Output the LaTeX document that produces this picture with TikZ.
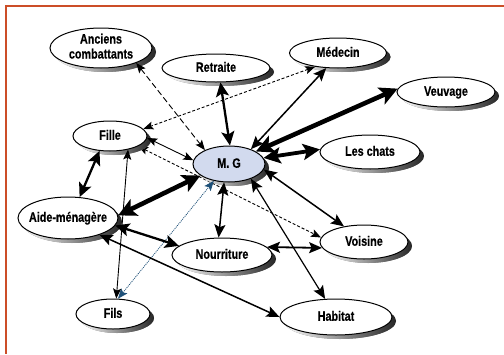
\documentclass[tikz,border=0pt]{standalone}
\usepackage{fontspec}
\setmainfont{Liberation Sans}[BoldFeatures={FakeBold=0.6}]
\usetikzlibrary{shapes.geometric,arrows.meta,shadows,backgrounds}
\definecolor{framecol}{RGB}{204,78,40}
\definecolor{mgfill}{RGB}{210,218,238}
\definecolor{dotblue}{RGB}{30,80,120}
\tikzset{
  oval/.style={ellipse, draw, line width=1pt, fill=white, inner sep=0pt,
    font=\fontsize{13.5}{15}\selectfont\bfseries, text height=9.5pt, text depth=2pt,
    drop shadow={shadow xshift=4pt, shadow yshift=-4pt, left color=white, right color=black!85, opacity=1}},
  tipA/.tip={Stealth[length=10pt,width=8pt,inset=2pt]},
  tipB/.tip={Stealth[length=13pt,width=11pt,inset=2.5pt]},
  tipC/.tip={Stealth[length=14pt,width=13pt,inset=3pt]},
  tipD/.tip={Stealth[length=17pt,width=16pt,inset=3.5pt]},
  tipE/.tip={Stealth[length=18pt,width=18pt,inset=4pt]},
  a1/.style={line width=0.9pt, tipA-tipA},
  a2/.style={line width=1.5pt, tipB-tipB},
  a3/.style={line width=2.3pt, tipC-tipC},
  a4/.style={line width=3.8pt, tipD-tipD},
  a5/.style={line width=4.6pt, tipE-tipE},
  dlong/.style={line width=0.9pt, dash pattern=on 6pt off 3pt, tipA-tipA},
  dsh/.style={line width=0.9pt, dash pattern=on 3pt off 2pt, tipA-tipA},
  dotb/.style={line width=0.8pt, dotblue, dash pattern=on 1pt off 1pt, tipA-tipA},
}
\newcommand{\lbl}[1]{\makebox[0pt]{\scalebox{0.8}[1]{#1}}}
\begin{document}
\begin{tikzpicture}[x=1pt,y=-1pt]
\useasboundingbox (0,0) rectangle (504,354);
\draw[framecol, line width=1.5pt] (504,6) -- (6,6) -- (6,354);

\node[oval, minimum width=102pt, minimum height=40pt, text height=24pt, text depth=3pt] (anc) at (101,48)
  {\lbl{\begin{tabular}[b]{@{}c@{}}Anciens\\combattants\end{tabular}}};
\node[oval, minimum width=108pt, minimum height=28pt] (ret) at (216,68) {\lbl{Retraite}};
\node[oval, minimum width=97pt, minimum height=30pt] (med) at (338,53) {\lbl{Médecin}};
\node[oval, minimum width=98pt, minimum height=30pt] (veu) at (446,92) {\lbl{Veuvage}};
\node[oval, minimum width=100pt, minimum height=34pt] (cha) at (370,152) {\lbl{Les chats}};
\node[oval, fill=mgfill, minimum width=72pt, minimum height=36pt] (mg) at (229,164) {\lbl{M. G}};
\node[oval, minimum width=74pt, minimum height=30pt] (fil) at (110,136) {\lbl{Fille}};
\node[oval, minimum width=100pt, minimum height=42pt] (aid) at (68,218) {\lbl{Aide-ménagère}};
\node[oval, minimum width=100pt, minimum height=34pt] (nou) at (222,255) {\lbl{Nourriture}};
\node[oval, minimum width=88pt, minimum height=34pt] (voi) at (364,242) {\lbl{Voisine}};
\node[oval, minimum width=74pt, minimum height=30pt] (fis) at (113,314) {\lbl{Fils}};
\node[oval, minimum width=112pt, minimum height=36pt] (hab) at (336,317) {\lbl{Habitat}};

\begin{scope}[on background layer]
  \draw[dsh] (fil.-20) -- (voi.174);
\end{scope}
\draw[dlong] (anc.-23) -- (mg.150);
\draw[a3] (ret.-73) -- (mg.87);
\draw[a2] (med.-128) -- (mg.34);
\draw[a5] (veu.176) -- (mg.25);
\draw[a4] (cha.177) -- (mg.10);
\draw[a2] (voi.142) -- (mg.-9);
\draw[a2, line width=1.2pt] (hab.121) -- (mg.-34);
\draw[a2] (nou.101) -- (mg.-105);
\draw[dotb] (fis.72) -- (mg.-132);
\draw[a5] (aid.3) -- (mg.-158);
\draw[a1] (fil.-3) -- (mg.174);
\draw[dsh] (med.-149) -- (fil.12);
\draw[a3] (fil.-125) -- (aid.61);
\draw[a1] (fil.-37) -- (fis.78);
\draw[a3] (aid.-9) -- (nou.168);
\draw[a2] (aid.-28) -- (hab.180);
\draw[a2, line width=1.8pt] (nou.10) -- (voi.-172);
\end{tikzpicture}
\end{document}
